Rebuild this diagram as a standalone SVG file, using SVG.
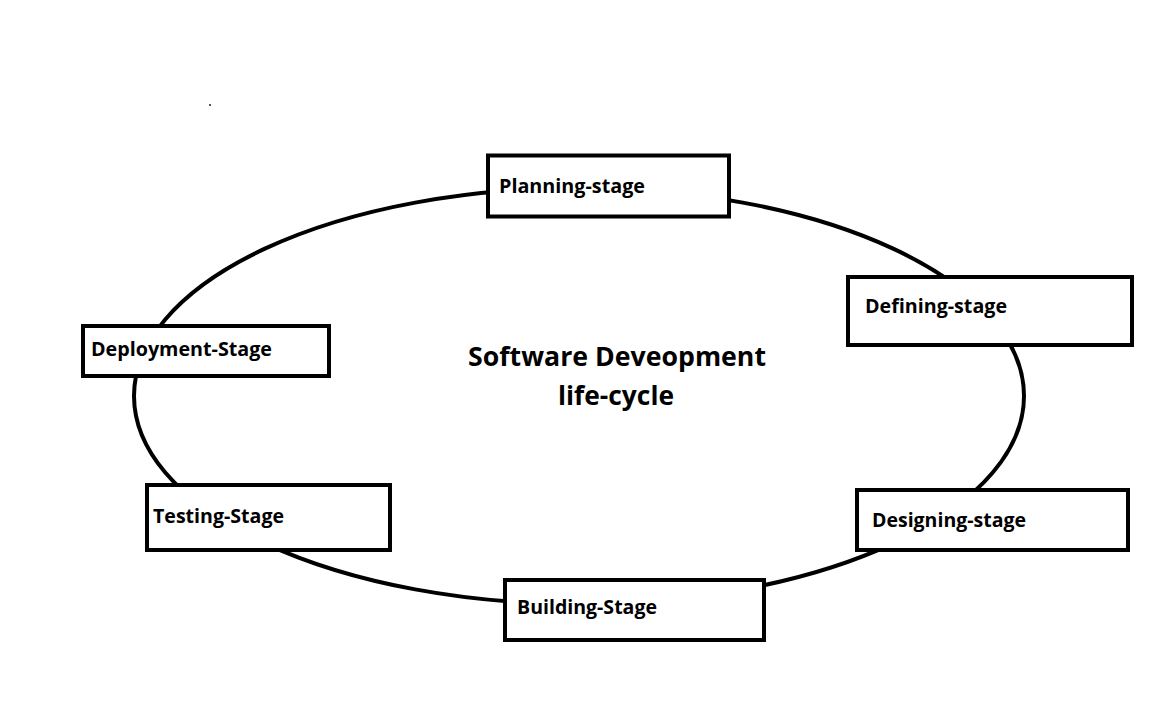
<svg xmlns="http://www.w3.org/2000/svg" width="1152" height="720" viewBox="0 0 1152 720">
<style>
.box{fill:#fff;stroke:#000;stroke-width:4}
.lbl{font-family:"Open Sans","Noto Sans","Liberation Sans",sans-serif;font-weight:bold;font-size:20px;fill:#000}
.title{font-family:"Open Sans","Noto Sans","Liberation Sans",sans-serif;font-weight:bold;font-size:27px;fill:#000}
.cycle{fill:none;stroke:#000;stroke-width:4}
</style>
<rect width="1152" height="720" fill="#fff"/>
<rect x="209" y="104" width="2" height="2" fill="#555"/>
<g id="connectors">
<ellipse class="cycle" cx="579" cy="396" rx="445" ry="208"/>
</g>
<g id="title">
<text class="title" x="468" y="366" textLength="298" lengthAdjust="spacingAndGlyphs">Software Deveopment</text>
<text class="title" x="558" y="405" textLength="116" lengthAdjust="spacingAndGlyphs">life-cycle</text>
</g>
<g id="planning">
<rect class="box" x="488" y="155.5" width="241" height="61"/>
<text class="lbl" x="499" y="193" textLength="146" lengthAdjust="spacingAndGlyphs">Planning-stage</text>
</g>
<g id="defining">
<rect class="box" x="848" y="277" width="284" height="68"/>
<text class="lbl" x="865" y="313" textLength="142" lengthAdjust="spacingAndGlyphs">Defining-stage</text>
</g>
<g id="designing">
<rect class="box" x="857" y="490" width="271" height="60"/>
<text class="lbl" x="872" y="527" textLength="154" lengthAdjust="spacingAndGlyphs">Designing-stage</text>
</g>
<g id="building">
<rect class="box" x="505" y="580" width="259" height="60"/>
<text class="lbl" x="517" y="614" textLength="140" lengthAdjust="spacingAndGlyphs">Building-Stage</text>
</g>
<g id="testing">
<rect class="box" x="147" y="485" width="243" height="65"/>
<text class="lbl" x="153" y="523" textLength="131" lengthAdjust="spacingAndGlyphs">Testing-Stage</text>
</g>
<g id="deployment">
<rect class="box" x="83" y="326" width="246" height="50"/>
<text class="lbl" x="91" y="356" textLength="181" lengthAdjust="spacingAndGlyphs">Deployment-Stage</text>
</g>
</svg>
